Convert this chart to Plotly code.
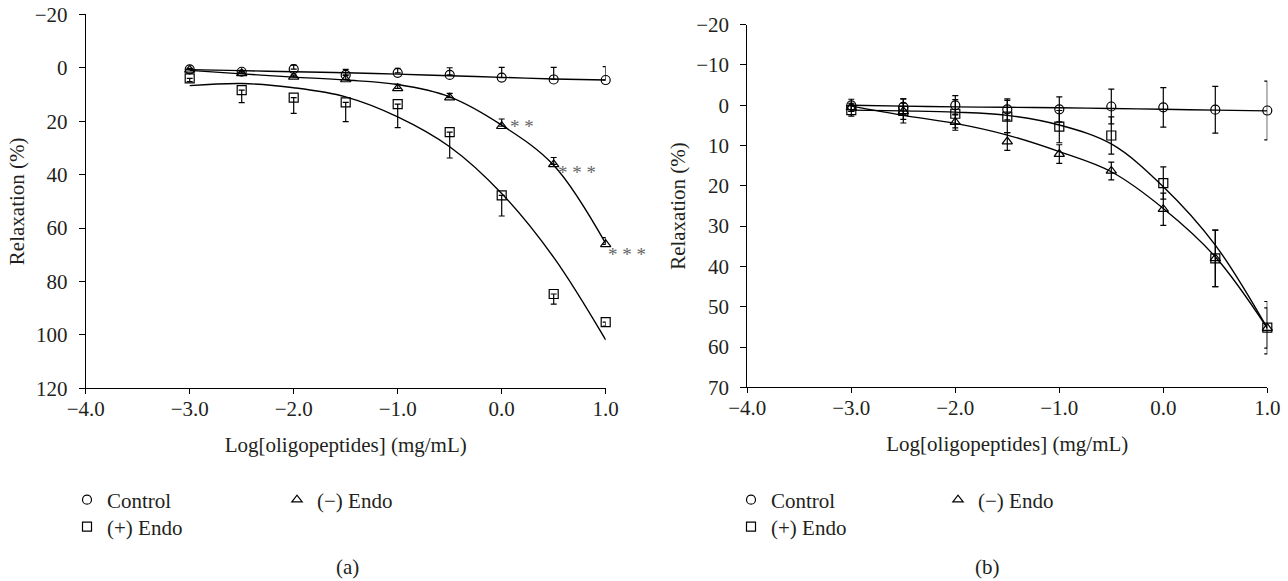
import plotly.graph_objects as go

W, H = 1288, 581
OFF = 0  # body margin removed below, so figure pixels == window pixels
FONT = "Liberation Serif"
INK = "#231f20"

# ---------------- data ----------------
log_conc = [-3.0, -2.5, -2.0, -1.5, -1.0, -0.5, 0.0, 0.5, 1.0]

# Panel (a)
a_control = [0.6, 1.5, 0.5, 2.7, 1.9, 2.7, 3.7, 4.4, 4.6]
a_control_err = [0.4, 0.5, 1.5, 2.1, 1.7, 2.7, 3.8, 4.5, 5.0]
a_minus = [0.8, 2.1, 3.4, 4.4, 7.7, 11.2, 21.9, 36.2, 66.1]
a_minus_err = [0.3, 0.5, 0.6, 1.5, 1.5, 1.6, 2.7, 2.6, 2.5]
a_plus = [4.0, 8.4, 11.2, 13.0, 13.6, 24.1, 47.8, 84.7, 95.2]
a_plus_err = [1.2, 4.7, 5.9, 7.2, 8.8, 9.7, 7.7, 3.8, 1.5]
a_fit_control = [0.7, 1.1, 1.5, 1.9, 2.4, 3.0, 3.6, 4.2, 4.6]
a_fit_minus = [1.0, 2.3, 3.5, 4.6, 6.3, 10.9, 21.5, 36.5, 65.8]
a_fit_plus = [6.7, 5.9, 7.5, 10.9, 18.4, 29.6, 47.1, 71.0, 101.9]

# Panel (b)
b_control = [0.0, 0.4, 0.0, 1.0, 1.0, 0.3, 0.5, 1.1, 1.3]
b_control_err = [1.5, 2.0, 2.4, 2.6, 3.1, 4.3, 4.9, 5.8, 7.3]
b_minus = [0.5, 1.5, 4.2, 9.0, 12.1, 16.3, 25.8, 38.0, 55.3]
b_minus_err = [1.0, 2.0, 2.0, 2.2, 2.3, 2.2, 4.0, 7.0, 5.0]
b_plus = [1.2, 1.4, 2.1, 2.8, 5.3, 7.5, 19.3, 38.0, 55.2]
b_plus_err = [1.5, 3.0, 3.5, 4.0, 4.0, 4.6, 4.0, 7.0, 6.5]
b_fit_control = [0.0, 0.2, 0.4, 0.5, 0.6, 0.8, 1.0, 1.2, 1.4]
b_fit_minus = [0.2, 2.5, 4.5, 7.4, 11.5, 16.5, 25.6, 37.6, 55.3]
b_fit_plus = [1.2, 1.4, 1.7, 2.5, 4.9, 9.6, 20.2, 34.7, 55.3]

series_names = ["Control", "(\u2212) Endo", "(+) Endo"]
symbols = ["circle-open", "triangle-up-open", "square-open"]
stars_a = ["* *", "* * *", "* * *"]
x_ticks = [-4, -3, -2, -1, 0, 1]


def px_x(p):
    return (p - OFF) / W


def px_y(p):
    return (H - (p - OFF)) / H


fig = go.Figure()


def add_fit(xs, ys, xa, ya):
    fig.add_trace(go.Scatter(
        x=xs, y=ys, mode="lines", xaxis=xa, yaxis=ya,
        line=dict(color="black", width=1.4, shape="spline", smoothing=1.0),
        showlegend=False, hoverinfo="skip"))


def add_points(xs, ys, err_plus, err_minus, sym, name, xa, ya, legend):
    fig.add_trace(go.Scatter(
        x=xs, y=ys, mode="markers", xaxis=xa, yaxis=ya, name=name,
        legend=legend, cliponaxis=False,
        marker=dict(symbol=sym, size=9, color="black",
                    line=dict(color="black", width=1.2)),
        error_y=dict(type="data", symmetric=False, array=err_plus,
                     arrayminus=err_minus, color="black", thickness=1.2,
                     width=3)))


zeros = [0] * len(log_conc)

# Panel (a): fits
add_fit(log_conc, a_fit_control, "x", "y")
add_fit(log_conc, a_fit_minus, "x", "y")
add_fit(log_conc, a_fit_plus, "x", "y")
# Panel (a): points (reversed y axis: "arrayminus" goes up visually)
add_points(log_conc, a_control, zeros, a_control_err, symbols[0], series_names[0], "x", "y", "legend")
add_points(log_conc, a_minus, zeros, a_minus_err, symbols[1], series_names[1], "x", "y", "legend2")
add_points(log_conc, a_plus, a_plus_err, zeros, symbols[2], series_names[2], "x", "y", "legend3")

# Panel (b)
add_fit(log_conc, b_fit_control, "x2", "y2")
add_fit(log_conc, b_fit_minus, "x2", "y2")
add_fit(log_conc, b_fit_plus, "x2", "y2")
add_points(log_conc, b_control, b_control_err, b_control_err, symbols[0], series_names[0], "x2", "y2", "legend4")
add_points(log_conc, b_minus, b_minus_err, b_minus_err, symbols[1], series_names[1], "x2", "y2", "legend5")
add_points(log_conc, b_plus, b_plus_err, b_plus_err, symbols[2], series_names[2], "x2", "y2", "legend6")

FS = 21
tickfont = dict(family=FONT, size=FS, color=INK)

xcommon = dict(range=[-4, 1], tickvals=x_ticks, tickformat=".1f",
               automargin=False, ticklabeloverflow="allow",
               showline=True, linecolor="black", linewidth=1,
               ticks="outside", ticklen=5, tickcolor="black", tickwidth=1,
               showgrid=False, zeroline=False, tickfont=tickfont,
               ticklabelstandoff=-4,
               title=dict(text="Log[oligopeptides] (mg/mL)",
                          font=dict(family=FONT, size=FS, color=INK),
                          standoff=17))
ycommon = dict(showline=True, linecolor="black", linewidth=1,
               automargin=False, ticklabeloverflow="allow",
               ticks="outside", ticklen=6, tickcolor="black", tickwidth=1,
               showgrid=False, zeroline=False, tickfont=tickfont,
               ticklabelstandoff=7,
               title=dict(text="Relaxation (%)",
                          font=dict(family=FONT, size=FS, color=INK),
                          standoff=4))

legend_base = dict(orientation="v", xanchor="left", yanchor="middle",
                   bgcolor="rgba(0,0,0,0)", borderwidth=0,
                   font=dict(family=FONT, size=FS, color=INK),
                   itemclick=False, itemdoubleclick=False)

row1, row2 = px_y(500), px_y(527)

fig.update_layout(
    width=W, height=H,
    margin=dict(l=0, r=0, t=0, b=0, autoexpand=False),
    paper_bgcolor="white", plot_bgcolor="white",
    xaxis=dict(domain=[px_x(85.7), px_x(605.7)], anchor="y", **xcommon),
    yaxis=dict(domain=[px_y(388.3), px_y(14.3)], anchor="x",
               range=[120, -20], dtick=20, **ycommon),
    xaxis2=dict(domain=[px_x(747.3), px_x(1267.3)], anchor="y2", **xcommon),
    yaxis2=dict(domain=[px_y(387.3), px_y(24.7)], anchor="x2",
                range=[70, -20], dtick=10, **ycommon),
    legend=dict(x=px_x(67), y=row1, **legend_base),
    legend2=dict(x=px_x(277), y=row1, **legend_base),
    legend3=dict(x=px_x(67), y=row2, **legend_base),
    legend4=dict(x=px_x(731), y=row1, **legend_base),
    legend5=dict(x=px_x(938), y=row1, **legend_base),
    legend6=dict(x=px_x(731), y=row2, **legend_base),
)

# significance stars next to (-) Endo points in panel (a)
star_shift = [(6, 0), (2, -8), (0, -10)]
for k, txt in enumerate(stars_a):
    idx = len(log_conc) - 3 + k
    dx, dy = star_shift[k]
    fig.add_annotation(x=log_conc[idx], y=a_minus[idx], xref="x", yref="y",
                       text=txt, showarrow=False, xanchor="left",
                       yanchor="middle", xshift=dx, yshift=dy,
                       font=dict(family=FONT, size=19, color="#666666"))

# panel labels
for lbl, xp in (("(a)", 347), ("(b)", 988)):
    fig.add_annotation(x=px_x(xp), y=px_y(567), xref="paper", yref="paper",
                       text=lbl, showarrow=False, xanchor="center",
                       yanchor="middle",
                       font=dict(family=FONT, size=FS, color=INK))

fig.write_html(
    "out.html",
    config={"displayModeBar": False},
    post_script="document.body.style.margin='0px';"
                "document.body.style.overflow='hidden';",
)
